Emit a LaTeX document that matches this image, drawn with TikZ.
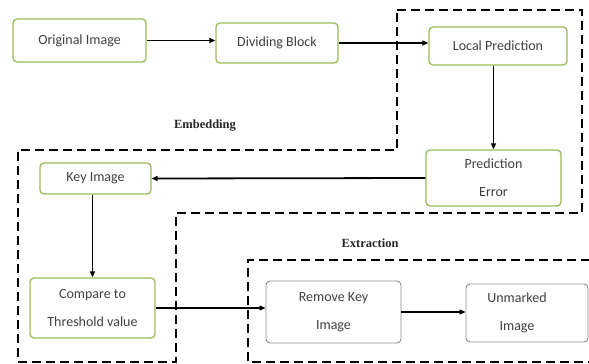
\documentclass[tikz,border=0pt]{standalone}
\usepackage{fontspec}
\setmainfont{Carlito}
\newfontfamily\labelfont{Liberation Serif}
\usetikzlibrary{arrows.meta}
\definecolor{boxgreen}{HTML}{9BBB59}
\definecolor{boxgray}{HTML}{8C8C8C}
\definecolor{txt}{HTML}{404040}
\tikzset{
  gbox/.style={draw=boxgreen, line width=1.3pt, rounded corners=4pt, fill=white,
    text=txt, font=\fontsize{14}{16}\selectfont, align=center, inner sep=0pt},
  wbox/.style={gbox, draw=boxgray, line width=0.9pt},
  conn/.style={line width=1.2pt, -{Triangle[length=6pt,width=5pt]}},
  thickconn/.style={conn, line width=1.8pt},
  region/.style={line width=2.2pt, dash pattern=on 9pt off 5pt},
  rlabel/.style={font=\labelfont\bfseries\fontsize{12.5}{14}\selectfont, text=black!85}
}
\begin{document}
\begin{tikzpicture}[x=1pt,y=-1pt]
\useasboundingbox (0,0) rectangle (589,364);
% regions
\coordinate (e1) at (397,10);
\coordinate (e2) at (582,10);
\coordinate (e3) at (582,213);
\coordinate (e4) at (176,213);
\coordinate (e5) at (176,362);
\coordinate (e6) at (18,362);
\coordinate (e7) at (18,150);
\coordinate (e8) at (397,150);
\draw[region] (e1) -- (e2) -- (e3) -- (e4) -- (e5) -- (e6) -- (e7) -- (e8) -- cycle;
\coordinate (x1) at (590,260);
\coordinate (x2) at (248,260);
\coordinate (x3) at (248,362);
\coordinate (x4) at (590,362);
\draw[region] (x1) -- (x2) -- (x3) -- (x4);
\node[rlabel] (emb) at (205,126) {Embedding};
\node[rlabel] (ext) at (370,243) {Extraction};
% boxes
\node[gbox, minimum width=133pt, minimum height=43pt] (orig) at (79.5,40.5) {Original Image};
\node[gbox, minimum width=122pt, minimum height=40pt] (div) at (277,43) {Dividing Block};
\node[gbox, minimum width=138pt, minimum height=38pt] (loc) at (498,46) {Local Prediction};
\node[gbox, minimum width=135pt, minimum height=56pt] (err) at (493.5,178) {Prediction\\[12pt]Error};
\node[gbox, minimum width=111pt, minimum height=31pt] (key) at (95.5,178.5) {Key Image};
\node[gbox, minimum width=125pt, minimum height=60pt] (cmp) at (92.5,308) {Compare to\\[12pt]Threshold value};
\node[wbox, minimum width=135pt, minimum height=62pt] (rem) at (333.5,312) {Remove Key\\[12pt]Image};
\node[wbox, minimum width=122pt, minimum height=58pt] (unm) at (527,313) {};
\node[text=txt, font=\fontsize{14}{16}\selectfont, align=center] (unmt) at (517,313) {Unmarked\\[12pt]Image};
% connectors
\draw[conn] (orig.east) -- (orig.east -| div.west);
\draw[conn] (div.east) -- (div.east -| loc.west);
\draw[conn] (loc.south -| err.north) -- (err.north);
\draw[thickconn] (err.west) -- (key.east);
\draw[conn] (key.south -| cmp.north) -- (cmp.north);
\draw[conn] (cmp.east) -- (cmp.east -| rem.west);
\draw[conn] (rem.east) -- (rem.east -| unm.west);
\end{tikzpicture}
\end{document}
